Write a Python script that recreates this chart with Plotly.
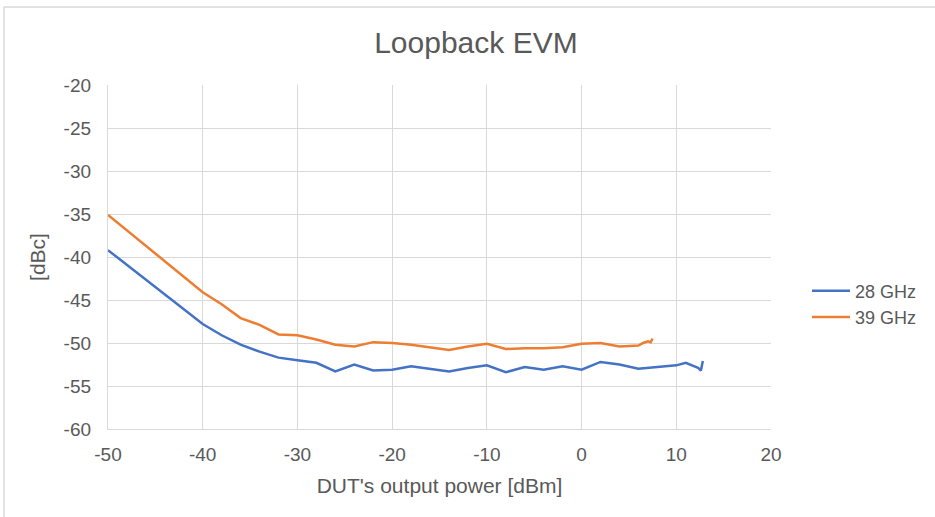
import plotly.graph_objects as go

x_28 = [-50, -48, -46, -44, -42, -40, -38, -36, -34, -32, -30, -28, -26, -24, -22, -20, -18, -16,
        -14, -12, -10, -8, -6, -4, -2, 0, 2, 4, 6, 8, 10, 11, 12.3, 12.6, 12.8]
y_28 = [-39.2, -40.9, -42.6, -44.4, -46.1, -47.8, -49.1, -50.2, -51.0, -51.7, -52.0, -52.3, -53.3,
        -52.5, -53.2, -53.1, -52.7, -53.0, -53.3, -52.9, -52.6, -53.4, -52.8, -53.1, -52.7, -53.1,
        -52.2, -52.5, -53.0, -52.8, -52.6, -52.3, -52.9, -53.2, -52.1]

x_39 = [-50, -48, -46, -44, -42, -40, -38, -36, -34, -32, -30, -28, -26, -24, -22, -20, -18, -16,
        -14, -12, -10, -8, -6, -4, -2, 0, 2, 4, 6, 6.5, 7, 7.3, 7.5]
y_39 = [-35.1, -36.9, -38.7, -40.5, -42.3, -44.1, -45.5, -47.1, -47.9, -49.0, -49.1, -49.6, -50.2,
        -50.4, -49.9, -50.0, -50.2, -50.5, -50.8, -50.4, -50.1, -50.7, -50.6, -50.6, -50.5, -50.1,
        -50.0, -50.4, -50.3, -50.0, -49.8, -49.9, -49.5]

series_names = ["28 GHz", "39 GHz"]
x_ticks = [-50, -40, -30, -20, -10, 0, 10, 20]
y_ticks = [-20, -25, -30, -35, -40, -45, -50, -55, -60]

FONT = "Liberation Sans, Arial, sans-serif"
TXT = "#595959"
GRID = "#d9d9d9"

fig = go.Figure()
fig.add_trace(go.Scatter(x=x_28, y=y_28, mode="lines", name=series_names[0],
                         line=dict(color="#4472C4", width=2.5)))
fig.add_trace(go.Scatter(x=x_39, y=y_39, mode="lines", name=series_names[1],
                         line=dict(color="#ED7D31", width=2.5)))

fig.update_layout(
    width=935, height=517,
    margin=dict(l=108, r=164, t=85, b=88),
    paper_bgcolor="white", plot_bgcolor="white",
    font=dict(family=FONT, color=TXT, size=19),
    title=dict(text="Loopback EVM", x=0.509, xanchor="center", y=0.917, yanchor="middle",
               font=dict(size=30, color=TXT, family=FONT)),
    showlegend=True,
    legend=dict(x=(807 - 108) / 663, xanchor="left", y=(429 - 304) / 344, yanchor="middle",
                font=dict(size=18, color=TXT, family=FONT),
                bgcolor="rgba(0,0,0,0)", itemwidth=38, tracegroupgap=0),
    xaxis=dict(range=[-50, 20], tickvals=x_ticks, ticktext=[str(v) for v in x_ticks],
               showgrid=True, gridcolor=GRID, gridwidth=1.3, zeroline=False,
               showline=True, linecolor=GRID, linewidth=1.3, mirror=False,
               ticks="", ticklabelstandoff=8,
               tickfont=dict(size=19, color=TXT, family=FONT),
               title=dict(text="DUT's output power [dBm]", standoff=14,
                          font=dict(size=21, color=TXT, family=FONT))),
    yaxis=dict(range=[-60, -20], tickvals=y_ticks, ticktext=[str(v) for v in y_ticks],
               showgrid=True, gridcolor=GRID, gridwidth=1.3, zeroline=False,
               showline=True, linecolor=GRID, linewidth=1.3,
               ticks="", ticklabelstandoff=12,
               tickfont=dict(size=19, color=TXT, family=FONT),
               title=dict(text="[dBc]", standoff=12,
                          font=dict(size=21, color=TXT, family=FONT))),
)

# outer chart border (left and top edges visible)
fig.add_shape(type="line", xref="paper", yref="paper",
              x0=(4 - 108) / 663, x1=(4 - 108) / 663, y0=(429 - 530) / 344, y1=(429 - 7) / 344,
              line=dict(color="#d9d9d9", width=1.5))
fig.add_shape(type="line", xref="paper", yref="paper",
              x0=(4 - 108) / 663, x1=(940 - 108) / 663, y0=(429 - 7) / 344, y1=(429 - 7) / 344,
              line=dict(color="#d9d9d9", width=1.5))

fig.write_html("out.html", config={"displayModeBar": False},
               post_script="document.body.style.margin='0';")
